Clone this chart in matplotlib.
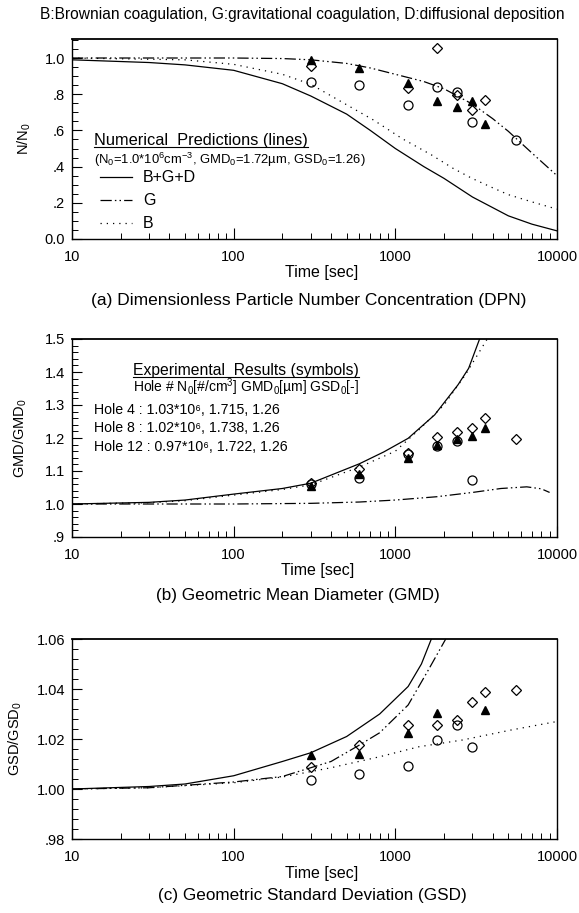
import numpy as np
import matplotlib
matplotlib.use('Agg')
import matplotlib.pyplot as plt
from matplotlib.ticker import LogLocator, NullFormatter, MultipleLocator
from matplotlib.lines import Line2D

plt.rcParams['font.family'] = ['Liberation Sans', 'DejaVu Sans']
plt.rcParams['mathtext.fontset'] = 'custom'
plt.rcParams['mathtext.rm'] = 'Liberation Sans'
plt.rcParams['mathtext.it'] = 'Liberation Sans:italic'
plt.rcParams['mathtext.default'] = 'regular'

nan = np.nan

# experiment times [sec] (same for all holes)
t_exp = [300, 600, 1200, 1800, 2400, 3000, 3600, 5600]

# (a) N/N0 - symbols
tri_a = [0.99, 0.945, 0.86, 0.765, 0.73, 0.765, 0.635, nan]
dia_a = [0.955, nan, 0.835, 1.055, 0.795, 0.71, 0.77, nan]
cir_a = [0.865, 0.85, 0.74, 0.84, 0.81, 0.645, nan, 0.545]

# (a) N/N0 - numerical predictions
t_bgd_a = [10, 30, 50, 100, 200, 300, 500, 700, 1000, 1500, 2000, 3000, 5000, 7000, 10000]
bgd_a = [0.99, 0.975, 0.962, 0.932, 0.858, 0.79, 0.69, 0.60, 0.50, 0.40, 0.335, 0.232, 0.128, 0.082, 0.045]
t_g_a = [10, 100, 200, 300, 500, 700, 1000, 1500, 2000, 3000, 4000, 5000, 7000, 10000]
g_a = [1.0, 1.0, 0.997, 0.99, 0.97, 0.945, 0.91, 0.87, 0.83, 0.745, 0.665, 0.595, 0.475, 0.35]
t_b_a = [10, 50, 100, 200, 300, 460, 740, 1100, 1670, 2280, 2950, 3840, 5000, 7000, 10000]
b_a = [1.0, 0.99, 0.965, 0.91, 0.855, 0.76, 0.655, 0.555, 0.465, 0.39, 0.337, 0.29, 0.245, 0.205, 0.165]

# (b) GMD/GMD0 - symbols
tri_b = [1.055, 1.09, 1.14, 1.178, 1.198, 1.205, 1.23, nan]
dia_b = [1.065, 1.105, 1.156, 1.203, 1.217, 1.23, 1.262, 1.196]
cir_b = [1.06, 1.078, 1.15, 1.175, 1.19, 1.072, nan, nan]

# (b) GMD/GMD0 - numerical predictions
t_bgd_b = [10, 30, 50, 100, 200, 300, 600, 850, 1200, 1750, 2440, 2840, 3320]
bgd_b = [1.0, 1.005, 1.012, 1.03, 1.047, 1.063, 1.122, 1.158, 1.199, 1.27, 1.361, 1.411, 1.5]
t_g_b = [10, 100, 300, 600, 1000, 1800, 3000, 4500, 6500, 8000, 9000]
g_b = [1.0, 1.0, 1.002, 1.006, 1.012, 1.022, 1.035, 1.047, 1.052, 1.046, 1.035]
t_b_b = [10, 30, 50, 100, 200, 300, 600, 1000, 1400, 2000, 2700, 3700]
b_b = [1.0, 1.004, 1.01, 1.027, 1.044, 1.058, 1.112, 1.16, 1.225, 1.3, 1.39, 1.5]

# (c) GSD/GSD0 - symbols
tri_c = [1.0135, 1.0142, 1.0224, 1.0305, nan, nan, 1.0316, nan]
dia_c = [1.0088, 1.0177, 1.0257, 1.0257, 1.0278, 1.035, 1.039, 1.0397]
cir_c = [1.0035, 1.006, 1.0093, 1.0195, 1.0256, 1.0169, nan, nan]

# (c) GSD/GSD0 - numerical predictions
t_bgd_c = [10, 30, 50, 100, 200, 300, 500, 800, 1200, 1450, 1670]
bgd_c = [1.0, 1.001, 1.002, 1.0053, 1.011, 1.0145, 1.021, 1.030, 1.041, 1.050, 1.060]
t_g_c = [10, 30, 100, 200, 400, 600, 800, 1200, 1600, 2050]
g_c = [1.0, 1.0005, 1.0028, 1.005, 1.011, 1.0176, 1.0225, 1.0336, 1.0476, 1.06]
t_b_c = [10, 30, 100, 200, 400, 800, 1400, 2600, 5200, 10000]
b_c = [1.0, 1.0005, 1.0025, 1.0048, 1.0085, 1.0129, 1.0169, 1.0196, 1.0236, 1.027]

# tick labels
x_ticks = [10, 100, 1000, 10000]
x_ticklabels = ['10', '100', '1000', '10000']
y_ticks_a = [0.0, 0.2, 0.4, 0.6, 0.8, 1.0]
y_ticklabels_a = ['0.0', '.2', '.4', '.6', '.8', '1.0']
y_ticks_b = [0.9, 1.0, 1.1, 1.2, 1.3, 1.4, 1.5]
y_ticklabels_b = ['.9', '1.0', '1.1', '1.2', '1.3', '1.4', '1.5']
y_ticks_c = [0.98, 1.00, 1.02, 1.04, 1.06]
y_ticklabels_c = ['.98', '1.00', '1.02', '1.04', '1.06']

legend_labels = ['B+G+D', 'G', 'B']
hole_lines = ['Hole 4 : 1.03*10\u2076, 1.715, 1.26',
              'Hole 8 : 1.02*10\u2076, 1.738, 1.26',
              'Hole 12 : 0.97*10\u2076, 1.722, 1.26']

W, H = 579, 913
fig = plt.figure(figsize=(W / 100, H / 100), dpi=100)


def add_ax(left, top, right, bottom):
    return fig.add_axes([left / W, 1 - bottom / H, (right - left) / W, (bottom - top) / H])


G_DASH = (0, (9, 2.5, 1.2, 2.5, 1.2, 2.5))
B_DOT = (0, (1, 4))


def draw_panel(ax, lines, syms, ylim, yticks, yticklabels, yminor, ylabel, ylab_x, xlab_x):
    t1, y1, t2, y2, t3, y3 = lines
    h1, = ax.plot(t1, y1, color='black', lw=0.9)
    h2, = ax.plot(t2, y2, color='black', lw=0.9, linestyle=G_DASH)
    h3, = ax.plot(t3, y3, color='black', lw=0.9, linestyle=B_DOT)
    tri, dia, cir = syms
    ax.plot(t_exp, cir, linestyle='none', marker='o', ms=6.5, mfc='none', mec='black', mew=0.9)
    ax.plot(t_exp, dia, linestyle='none', marker='D', ms=5.3, mfc='none', mec='black', mew=0.9)
    ax.plot(t_exp, tri, linestyle='none', marker='^', ms=6.2, color='black')

    ax.set_xscale('log')
    ax.set_xlim(10, 10000)
    ax.set_ylim(*ylim)
    ax.set_xticks(x_ticks)
    ax.set_xticklabels(x_ticklabels)
    ax.xaxis.set_minor_locator(LogLocator(base=10, subs=np.arange(2, 10)))
    ax.xaxis.set_minor_formatter(NullFormatter())
    ax.set_yticks(yticks)
    ax.set_yticklabels(yticklabels)
    ax.yaxis.set_minor_locator(MultipleLocator(yminor))
    ax.tick_params(which='both', direction='in', top=False, right=False, labelsize=10.5)
    ax.tick_params(axis='x', which='major', length=8, width=0.8, pad=8)
    ax.tick_params(axis='x', which='minor', length=4, width=0.7)
    ax.tick_params(axis='y', which='major', length=7, width=0.8, pad=5)
    ax.tick_params(axis='y', which='minor', length=4, width=0.7)
    for s in ax.spines.values():
        s.set_linewidth(1.0)
    ax.spines['top'].set_linewidth(1.3)

    ax.set_xlabel('Time [sec]', fontsize=11.5)
    ax.xaxis.set_label_coords(xlab_x, -0.17)
    ax.xaxis.label.set_va('center')
    ax.set_ylabel(ylabel, fontsize=10.5)
    ax.yaxis.set_label_coords(ylab_x, 0.5)
    ax.yaxis.label.set_va('center')
    return h1, h2, h3


# (a)
ax_a = add_ax(72, 39, 557, 239)
hs = draw_panel(ax_a, (t_bgd_a, bgd_a, t_g_a, g_a, t_b_a, b_a), (tri_a, dia_a, cir_a),
                (0, 1.105), y_ticks_a, y_ticklabels_a, 0.05, 'N/N$_0$', -0.099, 0.515)
head_a = ax_a.text(0.045, 0.495, 'Numerical  Predictions (lines)', fontsize=11.8, va='center',
                   transform=ax_a.transAxes)
ax_a.text(0.045, 0.395, '(N$_0$=1.0*10$^6$cm$^{-3}$, GMD$_0$=1.72\u00b5m, GSD$_0$=1.26)',
          fontsize=9.4, va='center', transform=ax_a.transAxes)
ax_a.legend(hs, legend_labels, loc='upper left', bbox_to_anchor=(0.0577, 0.343), frameon=False,
            fontsize=11.5, handlelength=2.0, handletextpad=0.7, labelspacing=0.5,
            borderpad=0, borderaxespad=0)

# (b)
ax_b = add_ax(72, 339, 557, 537)
draw_panel(ax_b, (t_bgd_b, bgd_b, t_g_b, g_b, t_b_b, b_b), (tri_b, dia_b, cir_b),
           (0.9, 1.5), y_ticks_b, y_ticklabels_b, 0.02, 'GMD/GMD$_0$', -0.107, 0.507)
head_b = ax_b.text(0.1258, 0.843, 'Experimental  Results (symbols)', fontsize=11.3, va='center',
                   transform=ax_b.transAxes)
ax_b.text(0.1258, 0.758, 'Hole # N$_0$[#/cm$^3$] GMD$_0$[\u00b5m] GSD$_0$[-]', fontsize=10,
          va='center', transform=ax_b.transAxes)
for i, s in enumerate(hole_lines):
    ax_b.text(0.045, 0.641 - i * 0.093, s, fontsize=10.2, va='center', transform=ax_b.transAxes)

# (c)
ax_c = add_ax(72, 639, 557, 839)
draw_panel(ax_c, (t_bgd_c, bgd_c, t_g_c, g_c, t_b_c, b_c), (tri_c, dia_c, cir_c),
           (0.98, 1.06), y_ticks_c, y_ticklabels_c, 0.004, 'GSD/GSD$_0$', -0.1175, 0.515)

# title and captions
fig.text(302 / W, 1 - 15 / H, 'B:Brownian coagulation, G:gravitational coagulation, D:diffusional deposition',
         fontsize=11.2, ha='center', va='center')
fig.text(309 / W, 1 - 301 / H, '(a) Dimensionless Particle Number Concentration (DPN)',
         fontsize=12.5, ha='center', va='center')
fig.text(298 / W, 1 - 595 / H, '(b) Geometric Mean Diameter (GMD)',
         fontsize=12.3, ha='center', va='center')
fig.text(312 / W, 1 - 895 / H, '(c) Geometric Standard Deviation (GSD)',
         fontsize=12.3, ha='center', va='center')

# underline the two legend headers
fig.canvas.draw()
inv = fig.transFigure.inverted()
for txt in (head_a, head_b):
    bb = txt.get_window_extent()
    (x0, y0), (x1, _) = inv.transform([(bb.x0, bb.y0 + 1), (bb.x1, bb.y0 + 1)])
    fig.add_artist(Line2D([x0, x1], [y0, y0], transform=fig.transFigure, color='black', lw=0.8))

fig.savefig('out.png', dpi=100)
